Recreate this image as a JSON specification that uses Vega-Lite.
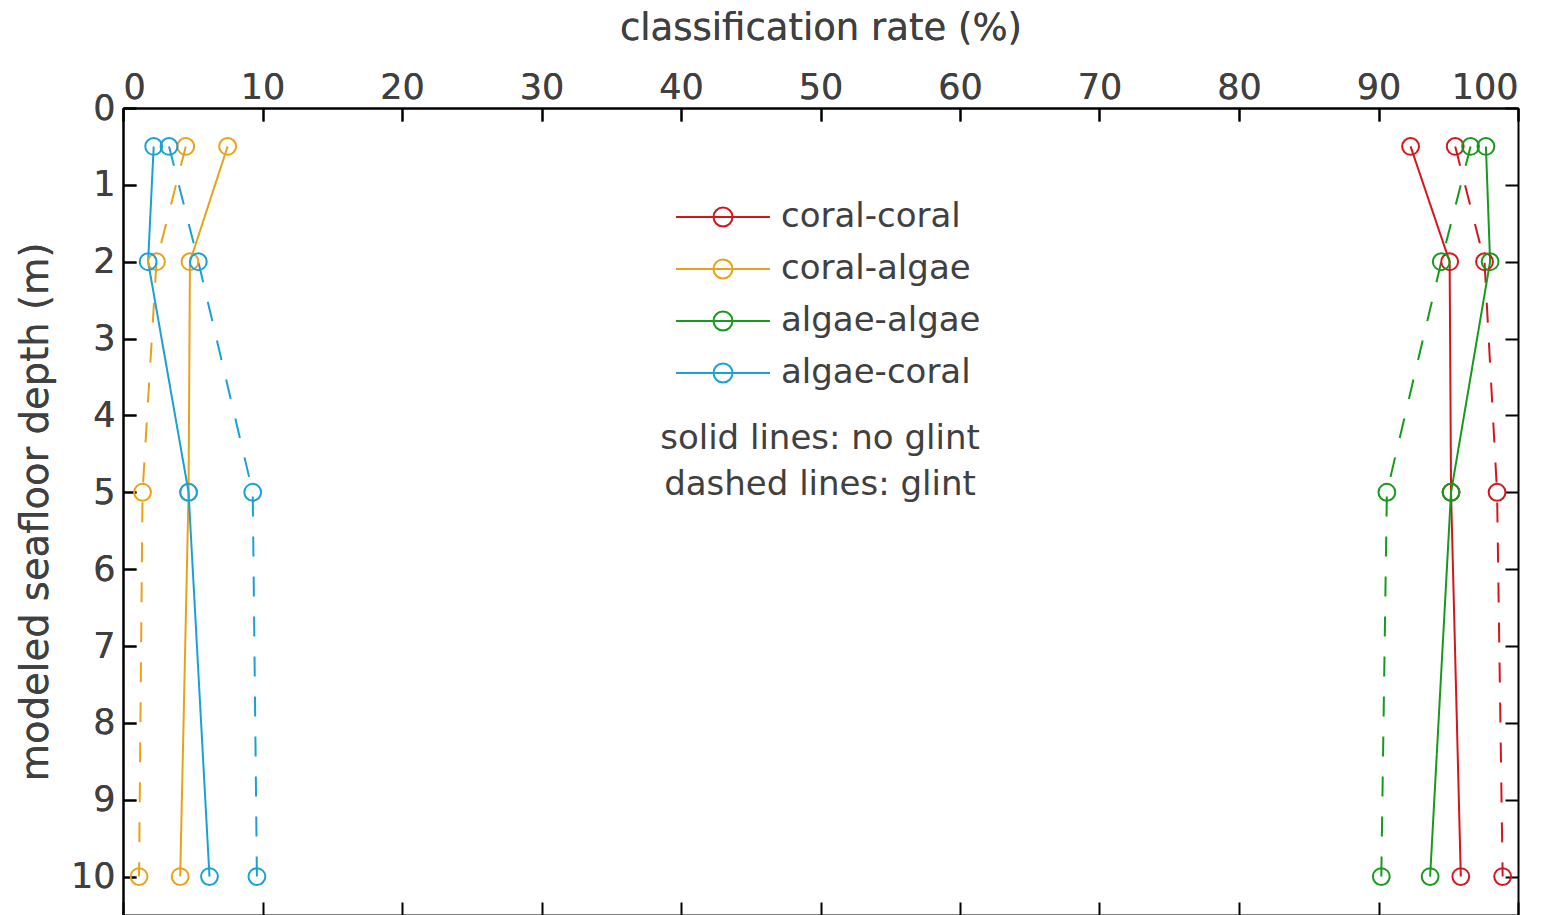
{
  "$schema": "https://vega.github.io/schema/vega-lite/v6.json",
  "width": 1395,
  "height": 807,
  "autosize": {"type": "none"},
  "padding": {"left": 123, "top": 108, "right": 47, "bottom": 0},
  "background": "white",
  "config": {
    "font": "DejaVu Sans",
    "view": {"stroke": null},
    "axis": {
      "domainColor": "black",
      "domainWidth": 2,
      "tickColor": "black",
      "tickWidth": 2,
      "tickSize": -13,
      "grid": false,
      "labelFont": "DejaVu Sans",
      "labelFontSize": 35,
      "labelColor": "#404040",
      "titleFont": "DejaVu Sans",
      "titleFontSize": 37,
      "titleFontWeight": "normal",
      "titleColor": "#404040"
    }
  },
  "data": {
    "values": [
      {"pair": "coral-coral", "glint": "no glint", "depth": 0.5, "rate": 92.3},
      {"pair": "coral-coral", "glint": "no glint", "depth": 2, "rate": 95.1},
      {"pair": "coral-coral", "glint": "no glint", "depth": 5, "rate": 95.2},
      {"pair": "coral-coral", "glint": "no glint", "depth": 10, "rate": 95.9},
      {"pair": "coral-coral", "glint": "glint", "depth": 0.5, "rate": 95.5},
      {"pair": "coral-coral", "glint": "glint", "depth": 2, "rate": 97.6},
      {"pair": "coral-coral", "glint": "glint", "depth": 5, "rate": 98.5},
      {"pair": "coral-coral", "glint": "glint", "depth": 10, "rate": 98.9},
      {"pair": "coral-algae", "glint": "no glint", "depth": 0.5, "rate": 7.5},
      {"pair": "coral-algae", "glint": "no glint", "depth": 2, "rate": 4.8},
      {"pair": "coral-algae", "glint": "no glint", "depth": 5, "rate": 4.7},
      {"pair": "coral-algae", "glint": "no glint", "depth": 10, "rate": 4.1},
      {"pair": "coral-algae", "glint": "glint", "depth": 0.5, "rate": 4.5},
      {"pair": "coral-algae", "glint": "glint", "depth": 2, "rate": 2.4},
      {"pair": "coral-algae", "glint": "glint", "depth": 5, "rate": 1.4},
      {"pair": "coral-algae", "glint": "glint", "depth": 10, "rate": 1.15},
      {"pair": "algae-algae", "glint": "no glint", "depth": 0.5, "rate": 97.7},
      {"pair": "algae-algae", "glint": "no glint", "depth": 2, "rate": 98.0},
      {"pair": "algae-algae", "glint": "no glint", "depth": 5, "rate": 95.2},
      {"pair": "algae-algae", "glint": "no glint", "depth": 10, "rate": 93.7},
      {"pair": "algae-algae", "glint": "glint", "depth": 0.5, "rate": 96.6},
      {"pair": "algae-algae", "glint": "glint", "depth": 2, "rate": 94.5},
      {"pair": "algae-algae", "glint": "glint", "depth": 5, "rate": 90.6},
      {"pair": "algae-algae", "glint": "glint", "depth": 10, "rate": 90.2},
      {"pair": "algae-coral", "glint": "no glint", "depth": 0.5, "rate": 2.2},
      {"pair": "algae-coral", "glint": "no glint", "depth": 2, "rate": 1.8},
      {"pair": "algae-coral", "glint": "no glint", "depth": 5, "rate": 4.7},
      {"pair": "algae-coral", "glint": "no glint", "depth": 10, "rate": 6.2},
      {"pair": "algae-coral", "glint": "glint", "depth": 0.5, "rate": 3.3},
      {"pair": "algae-coral", "glint": "glint", "depth": 2, "rate": 5.4},
      {"pair": "algae-coral", "glint": "glint", "depth": 5, "rate": 9.3},
      {"pair": "algae-coral", "glint": "glint", "depth": 10, "rate": 9.6}
    ]
  },
  "encoding": {
    "x": {
      "field": "rate",
      "type": "quantitative",
      "scale": {"domain": [0, 100], "nice": false, "zero": false},
      "axis": {
        "orient": "top",
        "title": "classification rate (%)",
        "values": [0, 10, 20, 30, 40, 50, 60, 70, 80, 90, 100],
        "labelPadding": 16,
        "titlePadding": 23
      }
    },
    "y": {
      "field": "depth",
      "type": "quantitative",
      "scale": {"domain": [10.5, 0], "nice": false, "zero": false},
      "axis": {
        "orient": "left",
        "title": "modeled seafloor depth (m)",
        "titleFontSize": 38.5,
        "values": [0, 1, 2, 3, 4, 5, 6, 7, 8, 9, 10],
        "labelPadding": 21,
        "titlePadding": 15
      }
    }
  },
  "layer": [
    {
      "mark": {"type": "rule", "color": "black", "strokeWidth": 2},
      "encoding": {
        "x": {"datum": 0, "type": "quantitative", "axis": {"orient": "bottom", "title": null, "labels": false, "values": [0, 10, 20, 30, 40, 50, 60, 70, 80, 90, 100]}},
        "y": {"datum": 0, "type": "quantitative", "axis": {"orient": "right", "title": null, "labels": false, "values": [0, 1, 2, 3, 4, 5, 6, 7, 8, 9, 10]}},
        "opacity": {"value": 0}
      }
    },
    {
      "mark": {"type": "line", "strokeWidth": 2},
      "encoding": {
        "color": {
          "field": "pair",
          "type": "nominal",
          "scale": {
            "domain": ["coral-coral", "coral-algae", "algae-algae", "algae-coral"],
            "range": ["#d4161c", "#e9a11a", "#169a1a", "#19a0d6"]
          },
          "legend": {
            "title": null,
            "orient": "none",
            "legendX": 583,
            "legendY": 92,
            "symbolType": "M-4.7,0H4.7M0.95,0A0.95,0.95,0,1,1,-0.95,0A0.95,0.95,0,1,1,0.95,0",
            "symbolSize": 400,
            "symbolStrokeWidth": 2,
            "symbolFillColor": "transparent",
            "labelFontSize": 34,
            "labelFont": "DejaVu Sans",
            "labelColor": "#404040",
            "labelLimit": 500,
            "labelOffset": 41,
            "rowPadding": 18
          }
        },
        "strokeDash": {
          "field": "glint",
          "type": "nominal",
          "scale": {"domain": ["no glint", "glint"], "range": [[1, 0], [20, 20]]},
          "legend": {
            "title": null,
            "orient": "none",
            "legendX": 663,
            "legendY": 314,
            "symbolOpacity": 0,
            "symbolSize": 1,
            "symbolStrokeWidth": 0,
            "labelOffset": 0,
            "labelAlign": "center",
            "labelFontSize": 34,
            "labelFont": "DejaVu Sans",
            "labelColor": "#404040",
            "labelLimit": 600,
            "rowPadding": 12,
            "labelExpr": "datum.label == 'no glint' ? 'solid lines: no glint' : 'dashed lines: glint'"
          }
        },
        "detail": {"field": "glint"},
        "order": {"field": "depth", "type": "quantitative"}
      }
    },
    {
      "mark": {"type": "point", "filled": false, "size": 283, "strokeWidth": 2, "opacity": 1},
      "encoding": {
        "color": {"field": "pair", "type": "nominal"},
        "shape": {"value": "circle"}
      }
    }
  ],
  "resolve": {"axis": {"x": "independent", "y": "independent"}}
}
